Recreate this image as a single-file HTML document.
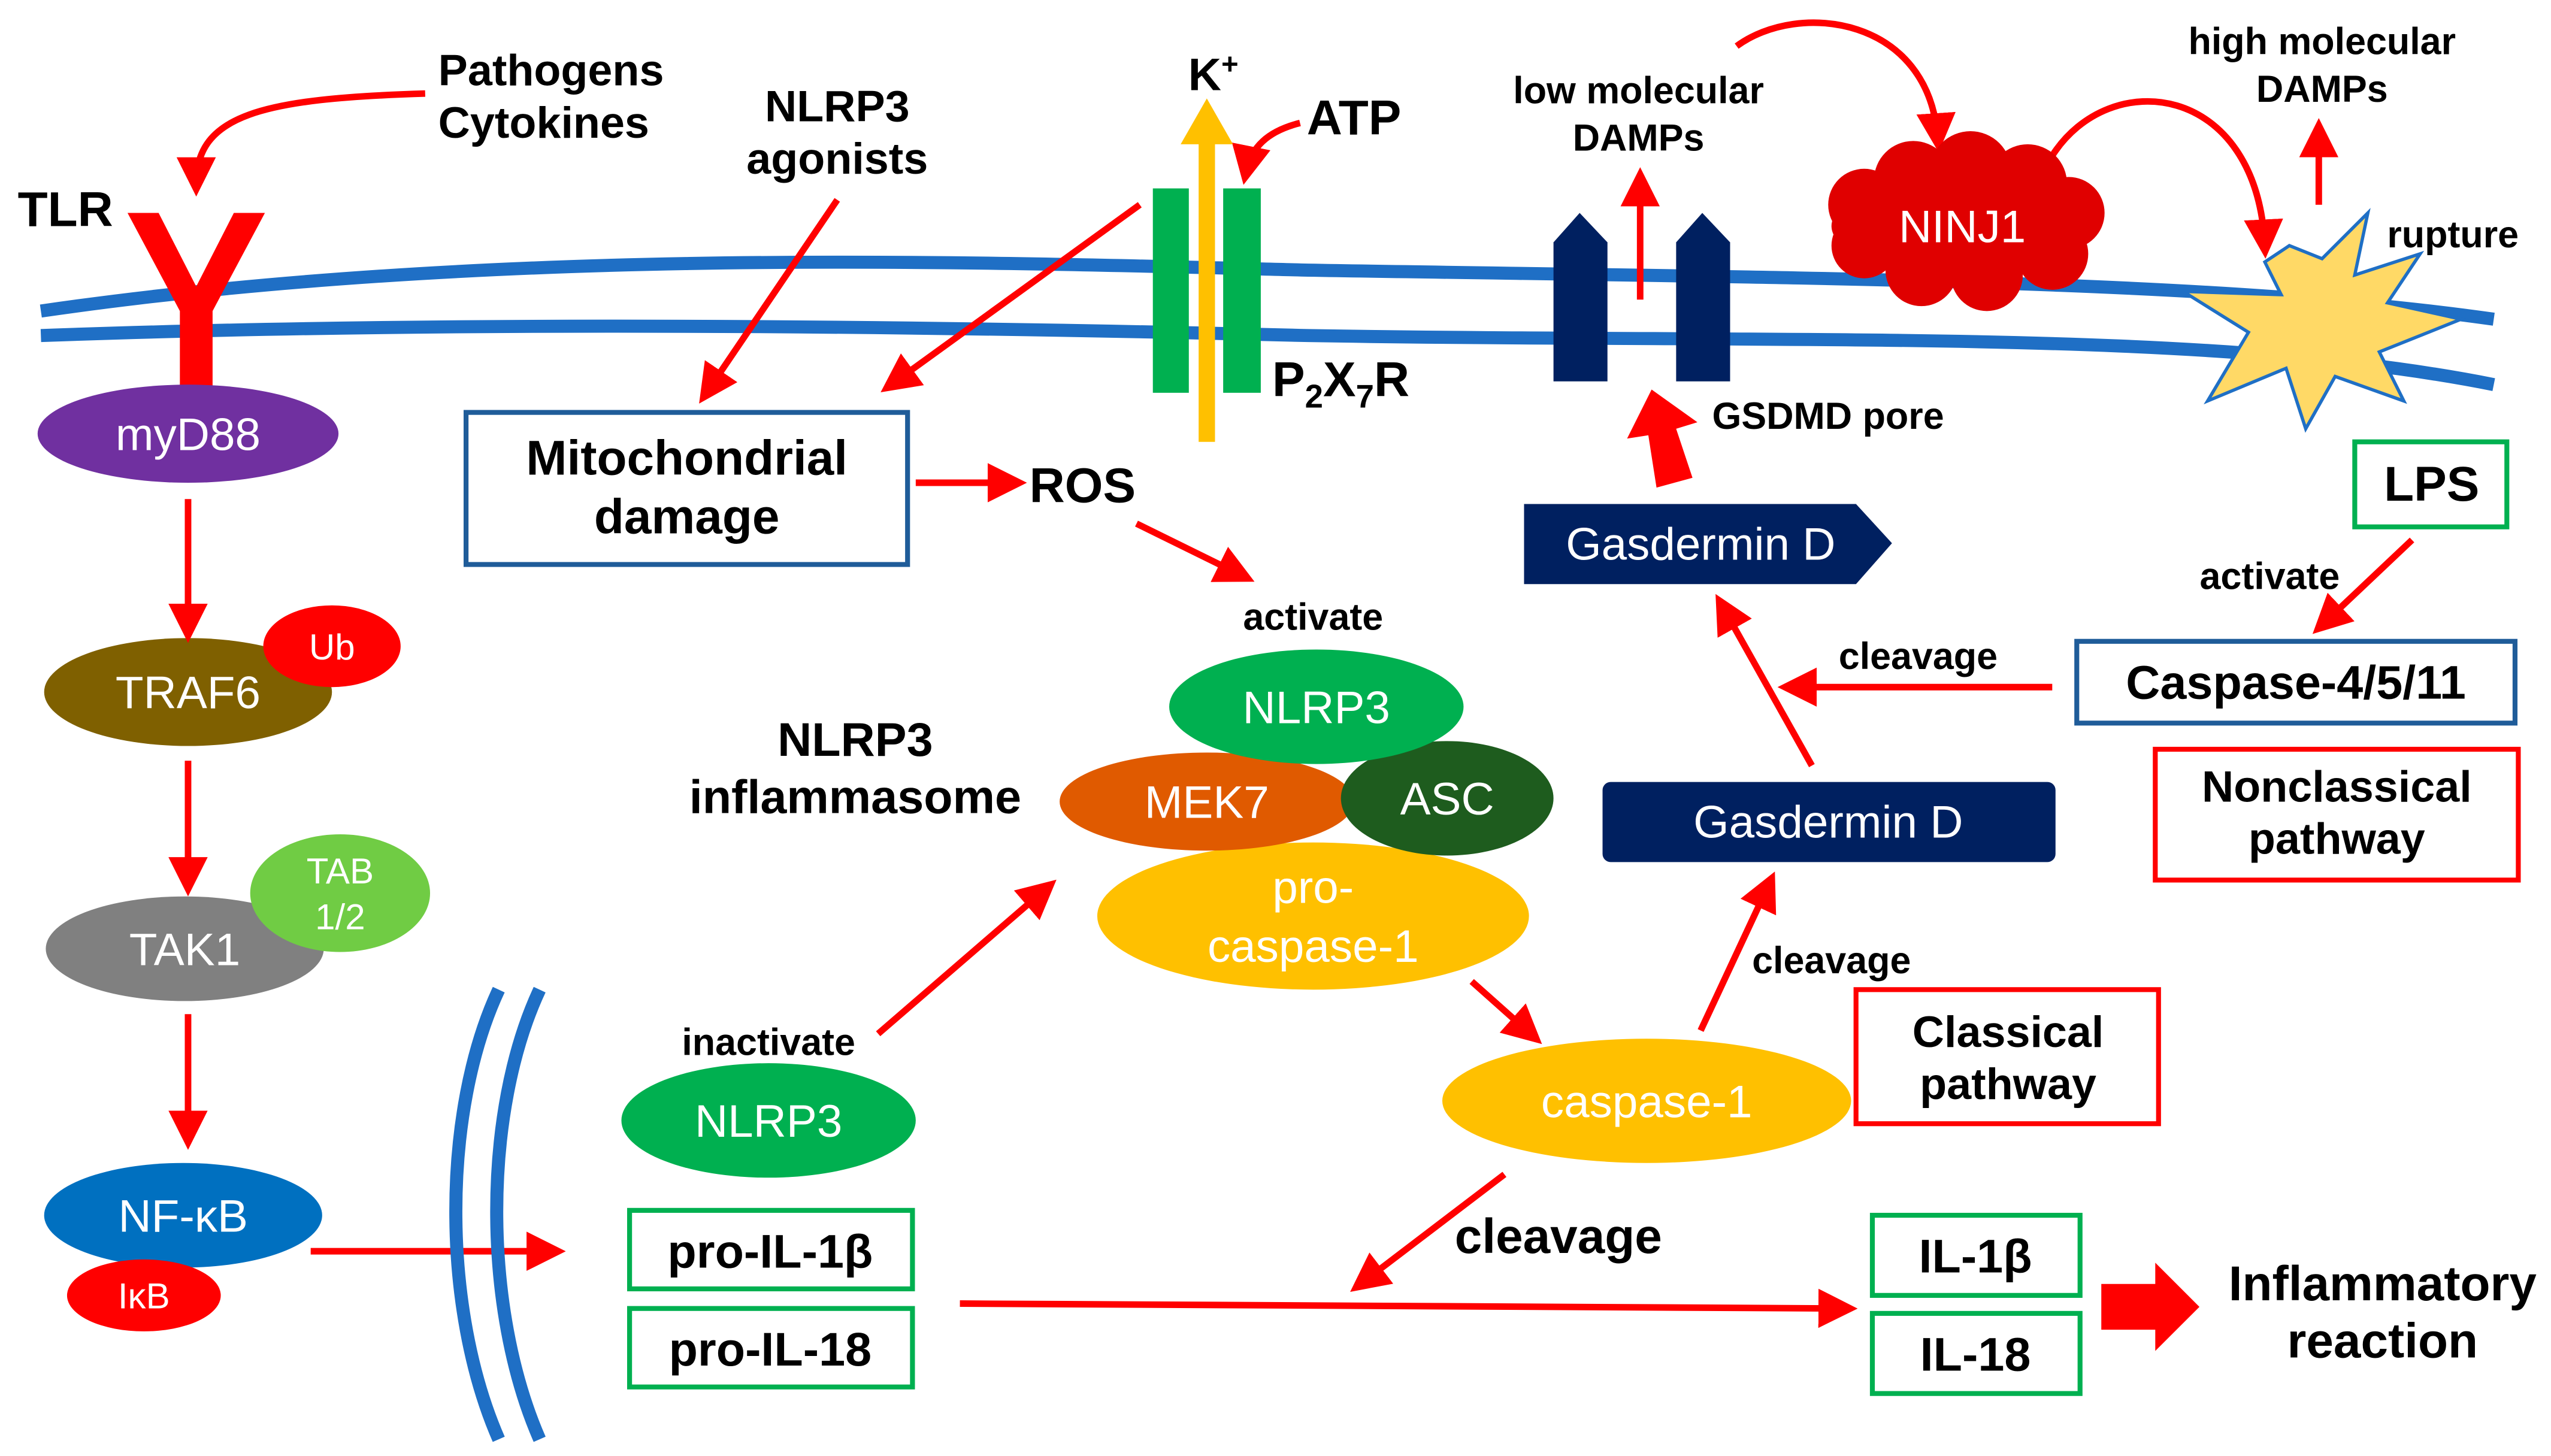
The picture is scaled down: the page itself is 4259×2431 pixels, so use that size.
<!DOCTYPE html>
<html><head><meta charset="utf-8"><style>
html,body{margin:0;padding:0;background:#fff;}
svg{display:block;}
text{font-family:"Liberation Sans",sans-serif;}
.b{font-weight:bold;fill:#000;font-size:27px;text-anchor:middle;}
.w{fill:#fff;font-size:28px;text-anchor:middle;}
</style></head><body>
<svg width="4259" height="2431" viewBox="0 0 1560 890" xmlns="http://www.w3.org/2000/svg">
<defs>
<marker id="ah" markerWidth="6" markerHeight="6" refX="4" refY="3" orient="auto" markerUnits="strokeWidth"><path d="M0,0 L6,3 L0,6 z" fill="#f00"/></marker>
</defs>
<!-- membrane -->
<path d="M25,190 C300,150 600,160 800,165 C1100,170 1350,170 1525,195" fill="none" stroke="#1f6fc5" stroke-width="8"/>
<path d="M25,205 C300,195 600,200 800,205 C1100,210 1350,200 1525,235" fill="none" stroke="#1f6fc5" stroke-width="8"/>
<!-- TLR -->
<path d="M78,130 L97,130 L120,175 L143,130 L162,130 L130,190 L130,245 L110,245 L110,190 Z" fill="#f00"/>
<text x="40" y="138" class="b" style="font-size:30px">TLR</text>
<text x="268" y="52" class="b" style="text-anchor:start">Pathogens</text>
<text x="268" y="84" class="b" style="text-anchor:start">Cytokines</text>
<path d="M260,57 C160,60 120,70 120,112" fill="none" stroke="#f00" stroke-width="4" marker-end="url(#ah)"/>
<ellipse cx="115" cy="265" rx="92" ry="30" fill="#7030a0"/><text x="115" y="275" class="w">myD88</text>
<ellipse cx="115" cy="423" rx="88" ry="33" fill="#7f6000"/><text x="115" y="433" class="w">TRAF6</text>
<ellipse cx="203" cy="395" rx="42" ry="25" fill="#f00"/><text x="203" y="403" class="w" style="font-size:22px">Ub</text>
<ellipse cx="113" cy="580" rx="85" ry="32" fill="#808080"/><text x="113" y="590" class="w">TAK1</text>
<ellipse cx="208" cy="546" rx="55" ry="36" fill="#70cc44"/><text x="208" y="540" class="w" style="font-size:22px">TAB</text><text x="208" y="568" class="w" style="font-size:22px">1/2</text>
<ellipse cx="112" cy="743" rx="85" ry="32" fill="#0070c0"/><text x="112" y="753" class="w">NF-κB</text>
<ellipse cx="88" cy="792" rx="47" ry="22" fill="#f00"/><text x="88" y="800" class="w" style="font-size:22px">IκB</text>
<g stroke="#f00" stroke-width="4" fill="none" marker-end="url(#ah)">
<line x1="115" y1="305" x2="115" y2="385"/>
<line x1="115" y1="465" x2="115" y2="540"/>
<line x1="115" y1="620" x2="115" y2="695"/>
<line x1="190" y1="765" x2="338" y2="765"/>
<line x1="512" y1="122" x2="432" y2="240"/>
<line x1="560" y1="295" x2="620" y2="295"/>
<line x1="695" y1="320" x2="760" y2="352"/>
<line x1="697" y1="125" x2="545" y2="235"/>
<path d="M795,75 C775,80 765,90 762,105"/>
<line x1="537" y1="632" x2="640" y2="543"/>
<line x1="900" y1="600" x2="937" y2="633"/>
<line x1="1040" y1="630" x2="1082" y2="540"/>
<line x1="1108" y1="468" x2="1053" y2="370"/>
<line x1="1255" y1="420" x2="1095" y2="420"/>
<line x1="1475" y1="330" x2="1420" y2="382"/>
<line x1="920" y1="718" x2="832" y2="785"/>
<line x1="587" y1="797" x2="1128" y2="800"/>
<line x1="1003" y1="183" x2="1003" y2="110"/>
<line x1="1418" y1="125" x2="1418" y2="80"/>
<path d="M1062,28 C1100,0 1180,10 1185,85"/>
<path d="M1255,95 C1290,40 1380,50 1385,150"/>
</g>
<!-- arcs -->
<path d="M305,605 C270,680 270,800 305,880" fill="none" stroke="#1f6fc5" stroke-width="8"/>
<path d="M330,605 C295,680 295,800 330,880" fill="none" stroke="#1f6fc5" stroke-width="8"/>
<text x="512" y="74" class="b">NLRP3</text><text x="512" y="106" class="b">agonists</text>
<rect x="285" y="252" width="270" height="93" fill="#fff" stroke="#1f5c99" stroke-width="3"/>
<text x="420" y="290" class="b" style="font-size:30px">Mitochondrial</text><text x="420" y="326" class="b" style="font-size:30px">damage</text>
<text x="662" y="307" class="b" style="font-size:30px">ROS</text>
<text x="803" y="385" class="b" style="font-size:23px">activate</text>
<!-- P2X7R -->
<rect x="705" y="115" width="22" height="125" fill="#00b050"/>
<rect x="748" y="115" width="23" height="125" fill="#00b050"/>
<line x1="738" y1="270" x2="738" y2="85" stroke="#ffc000" stroke-width="10"/>
<path d="M722,88 L738,60 L754,88 z" fill="#ffc000"/>
<text x="742" y="55" class="b" style="font-size:28px">K<tspan font-size="18" dy="-10">+</tspan></text>
<text x="828" y="82" class="b" style="font-size:30px">ATP</text>
<text x="778" y="242" class="b" style="font-size:30px;text-anchor:start">P<tspan font-size="20" dy="7">2</tspan><tspan dy="-7">X</tspan><tspan font-size="20" dy="7">7</tspan><tspan dy="-7">R</tspan></text>
<!-- inflammasome -->
<text x="523" y="462" class="b" style="font-size:29px">NLRP3</text><text x="523" y="497" class="b" style="font-size:29px">inflammasome</text>
<ellipse cx="803" cy="560" rx="132" ry="45" fill="#ffc000"/>
<ellipse cx="738" cy="490" rx="90" ry="30" fill="#e05a00"/>
<ellipse cx="885" cy="488" rx="65" ry="35" fill="#1e5c1e"/>
<ellipse cx="805" cy="432" rx="90" ry="35" fill="#00b050"/>
<text x="805" y="442" class="w">NLRP3</text>
<text x="738" y="500" class="w">MEK7</text>
<text x="885" y="498" class="w">ASC</text>
<text x="803" y="552" class="w">pro-</text><text x="803" y="588" class="w">caspase-1</text>
<text x="470" y="645" class="b" style="font-size:23px">inactivate</text>
<ellipse cx="470" cy="685" rx="90" ry="35" fill="#00b050"/><text x="470" y="695" class="w">NLRP3</text>
<ellipse cx="1007" cy="673" rx="125" ry="38" fill="#ffc000"/><text x="1007" y="683" class="w">caspase-1</text>
<rect x="1135" y="605" width="185" height="82" fill="#fff" stroke="#f00" stroke-width="3"/>
<text x="1228" y="640" class="b">Classical</text><text x="1228" y="672" class="b">pathway</text>
<text x="1120" y="595" class="b" style="font-size:23px">cleavage</text>
<rect x="980" y="478" width="277" height="49" rx="5" fill="#002060"/><text x="1118" y="512" class="w">Gasdermin D</text>
<path d="M932,308 L1135,308 L1157,332 L1135,357 L932,357 z" fill="#002060"/><text x="1040" y="342" class="w">Gasdermin D</text>
<path d="M1013,298 L1035,292 L1025,262 L1038,258 L1010,238 L995,268 L1008,266 z" fill="#f00"/>
<text x="1047" y="262" class="b" style="font-size:23px;text-anchor:start">GSDMD pore</text>
<path d="M950,233 L950,148 L966,130 L983,148 L983,233 z" fill="#002060"/>
<path d="M1025,233 L1025,148 L1041,130 L1058,148 L1058,233 z" fill="#002060"/>
<text x="1002" y="63" class="b" style="font-size:23px">low molecular</text><text x="1002" y="92" class="b" style="font-size:23px">DAMPs</text>
<!-- NINJ1 cloud -->
<g fill="#e00000">
<ellipse cx="1200" cy="138" rx="80" ry="30"/>
<circle cx="1140" cy="125" r="22"/><circle cx="1170" cy="110" r="24"/><circle cx="1205" cy="105" r="25"/><circle cx="1240" cy="112" r="24"/><circle cx="1265" cy="130" r="22"/>
<circle cx="1140" cy="150" r="20"/><circle cx="1175" cy="165" r="22"/><circle cx="1215" cy="168" r="22"/><circle cx="1255" cy="155" r="22"/>
</g>
<text x="1200" y="148" class="w">NINJ1</text>
<path d="M1385,160 L1395,180 L1335,178 L1375,203 L1350,245 L1398,225 L1410,262 L1428,230 L1470,245 L1455,215 L1505,195 L1460,185 L1480,155 L1440,168 L1448,130 L1420,158 L1400,150 z" fill="#ffd966" stroke="#1f6fc5" stroke-width="2"/>
<text x="1500" y="151" class="b" style="font-size:23px">rupture</text>
<text x="1420" y="33" class="b" style="font-size:23px">high molecular</text><text x="1420" y="62" class="b" style="font-size:23px">DAMPs</text>
<rect x="1440" y="270" width="93" height="52" fill="#fff" stroke="#00b050" stroke-width="3"/><text x="1487" y="306" class="b" style="font-size:30px">LPS</text>
<text x="1388" y="360" class="b" style="font-size:23px">activate</text>
<rect x="1270" y="392" width="268" height="50" fill="#fff" stroke="#1f5c99" stroke-width="3"/><text x="1404" y="427" class="b" style="font-size:29px">Caspase-4/5/11</text>
<text x="1173" y="409" class="b" style="font-size:23px">cleavage</text>
<rect x="1318" y="458" width="222" height="80" fill="#fff" stroke="#f00" stroke-width="3"/>
<text x="1429" y="490" class="b">Nonclassical</text><text x="1429" y="522" class="b">pathway</text>
<text x="953" y="766" class="b" style="font-size:30px">cleavage</text>
<rect x="385" y="740" width="173" height="48" fill="#fff" stroke="#00b050" stroke-width="3"/><text x="471" y="775" class="b" style="font-size:29px">pro-IL-1β</text>
<rect x="385" y="800" width="173" height="48" fill="#fff" stroke="#00b050" stroke-width="3"/><text x="471" y="835" class="b" style="font-size:29px">pro-IL-18</text>
<rect x="1145" y="743" width="127" height="49" fill="#fff" stroke="#00b050" stroke-width="3"/><text x="1208" y="778" class="b" style="font-size:29px">IL-1β</text>
<rect x="1145" y="803" width="127" height="49" fill="#fff" stroke="#00b050" stroke-width="3"/><text x="1208" y="838" class="b" style="font-size:29px">IL-18</text>
<path d="M1285,785 L1318,785 L1318,772 L1345,799 L1318,826 L1318,813 L1285,813 z" fill="#f00"/>
<text x="1457" y="795" class="b" style="font-size:30px">Inflammatory</text><text x="1457" y="830" class="b" style="font-size:30px">reaction</text>
</svg>
</body></html>
